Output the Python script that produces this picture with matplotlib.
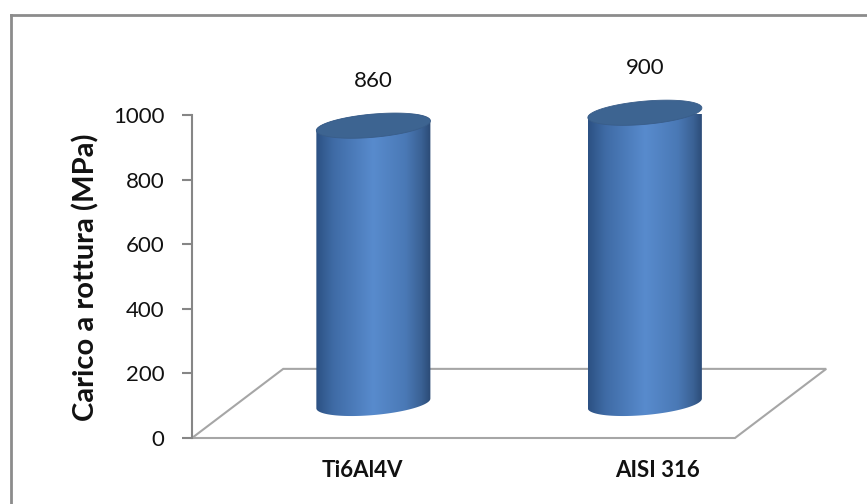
import numpy as np
import matplotlib.pyplot as plt
from matplotlib.colors import LinearSegmentedColormap
from matplotlib.patches import Polygon
from matplotlib.lines import Line2D

plt.rcParams['font.family'] = ['Lato', 'DejaVu Sans']

materials = ['Ti6Al4V', 'AISI 316']
strength = [860, 900]
yticks = [0, 200, 400, 600, 800, 1000]

W, H = 867, 504
fig = plt.figure(figsize=(W / 100, H / 100), dpi=100)
fig.patch.set_facecolor('white')

# outer chart frame (runs off the right and bottom edges)
fig.add_artist(Line2D([11 / W, 11 / W], [0, 1 - 15 / H], color='#8c8c8c', lw=2))
fig.add_artist(Line2D([11 / W, 1], [1 - 15 / H, 1 - 15 / H], color='#8c8c8c', lw=2))

ax = fig.add_axes([192 / W, 66 / H, 543 / W, 323 / H])
ax.set_xlim(0, 2)
ax.set_ylim(0, 1000)

# depth of the floor and cylinder shape, in data units
dx, dy = 0.168, 107
half_w = 0.21
cap_h = 36
tilt = 15

body_cmap = LinearSegmentedColormap.from_list('cyl', [
    (0.0, '#2c5183'), (0.15, '#3f6ba5'), (0.5, '#588bcd'),
    (0.78, '#4a79b6'), (0.92, '#3a6194'), (1.0, '#2b4a75')])

# floor
floor = Polygon([(0, 0), (2, 0), (2 + 2 * dx, 2 * dy), (2 * dx, 2 * dy)],
                closed=True, fc='white', ec='#a6a6a6', lw=1.5, clip_on=False, zorder=1)
ax.add_patch(floor)

grad = np.linspace(0, 1, 256)[None, :]
for i, (name, v) in enumerate(zip(materials, strength)):
    cx = i + 0.5 + dx
    base = dy
    top = dy + v
    t1 = np.linspace(np.pi, 2 * np.pi, 80)
    t2 = np.linspace(0, np.pi, 80)
    bx = cx + half_w * np.cos(t1)
    by = base + cap_h * np.sin(t1) + tilt * np.cos(t1)
    tx = cx + half_w * np.cos(t2)
    ty = top + cap_h * np.sin(t2) + tilt * np.cos(t2)
    body = Polygon(np.c_[np.r_[bx, tx], np.r_[by, ty]], closed=True,
                   fc='none', ec='none')
    ax.add_patch(body)
    im = ax.imshow(grad, cmap=body_cmap, aspect='auto', origin='lower',
                   extent=[cx - half_w, cx + half_w, base - 80, top + 80],
                   zorder=2)
    im.set_clip_path(body)
    im.set_clip_box(None)

    t = np.linspace(0, 2 * np.pi, 160)
    cap = Polygon(np.c_[cx + half_w * np.cos(t),
                        top + cap_h * np.sin(t) + tilt * np.cos(t)],
                  closed=True, fc='#3d6491', ec='#395d89', lw=0.6,
                  zorder=3, clip_on=False)
    ax.add_patch(cap)

    ax.text(cx, top + 138, str(v), ha='center', va='center',
            fontsize=16, color='#111111', clip_on=False)

ax.set_xlim(0, 2)
ax.set_ylim(0, 1000)

for s in ['top', 'right', 'bottom']:
    ax.spines[s].set_visible(False)
ax.spines['left'].set_color('#868686')
ax.spines['left'].set_linewidth(1.5)
ax.set_yticks(yticks)
ax.tick_params(axis='y', direction='out', length=7, width=1.5, color='#868686',
               labelsize=16, labelcolor='#111111', pad=13)

label_nudge = [-0.04, 0.045]
ax.set_xticks(np.arange(len(materials)) + 0.5 + dx + np.array(label_nudge))
ax.set_xticklabels(materials, fontsize=16, fontweight='bold', color='#111111')
ax.tick_params(axis='x', length=0, pad=16)

fig.text(86 / W, 1 - 277 / H, 'Carico a rottura (MPa)', rotation=90,
         ha='center', va='center', fontsize=21, fontweight='bold', color='#111111')

fig.savefig('out.png', dpi=100)
